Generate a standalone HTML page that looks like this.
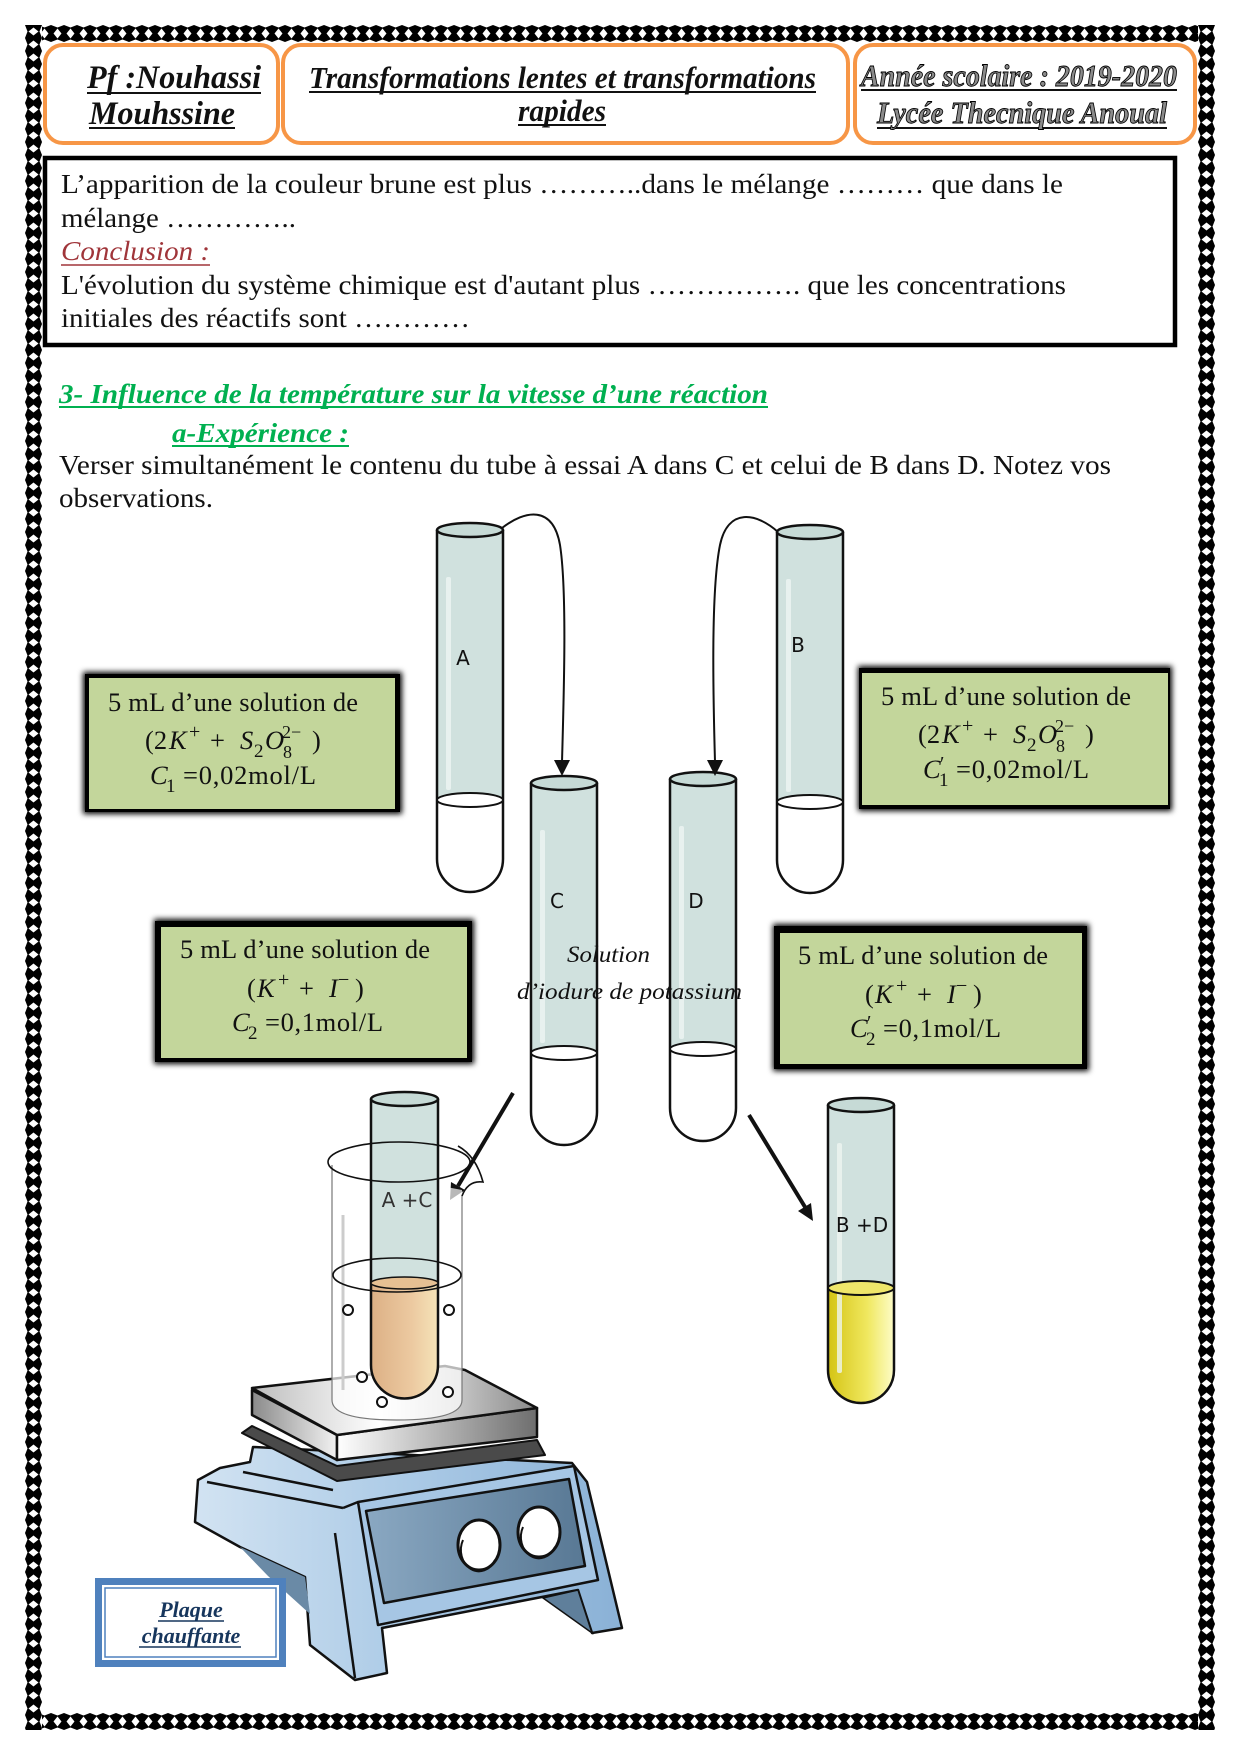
<!DOCTYPE html>
<html><head><meta charset="utf-8">
<style>
html,body{margin:0;padding:0;background:#fff;}
svg{display:block;}
.s{font-family:"Liberation Serif",serif;}
.ss{font-family:"DejaVu Sans","Liberation Sans",sans-serif;}
</style></head>
<body>
<svg width="1240" height="1754" viewBox="0 0 1240 1754" xmlns="http://www.w3.org/2000/svg">
<defs>
 <pattern id="pt" x="25" y="25" width="13" height="17" patternUnits="userSpaceOnUse">
  <rect width="13" height="17" fill="#000"/>
  <polygon points="6.5,3.5 10.5,8.5 6.5,13.5 2.5,8.5" fill="#fff"/>
  <polygon points="0,0 13,0 6.5,2.5" fill="#fff"/>
  <polygon points="0,17 13,17 6.5,14.5" fill="#fff"/>
 </pattern>
 <pattern id="pb" x="25" y="1713" width="13" height="17" patternUnits="userSpaceOnUse">
  <rect width="13" height="17" fill="#000"/>
  <polygon points="6.5,3.5 10.5,8.5 6.5,13.5 2.5,8.5" fill="#fff"/>
  <polygon points="0,0 13,0 6.5,2.5" fill="#fff"/>
  <polygon points="0,17 13,17 6.5,14.5" fill="#fff"/>
 </pattern>
 <pattern id="pl" x="25" y="25" width="17" height="13" patternUnits="userSpaceOnUse">
  <rect width="17" height="13" fill="#000"/>
  <polygon points="3.5,6.5 8.5,2.5 13.5,6.5 8.5,10.5" fill="#fff"/>
  <polygon points="0,0 0,13 2.5,6.5" fill="#fff"/>
  <polygon points="17,0 17,13 14.5,6.5" fill="#fff"/>
 </pattern>
 <pattern id="pr" x="1198" y="25" width="17" height="13" patternUnits="userSpaceOnUse">
  <rect width="17" height="13" fill="#000"/>
  <polygon points="3.5,6.5 8.5,2.5 13.5,6.5 8.5,10.5" fill="#fff"/>
  <polygon points="0,0 0,13 2.5,6.5" fill="#fff"/>
  <polygon points="17,0 17,13 14.5,6.5" fill="#fff"/>
 </pattern>
 <filter id="blur" x="-10%" y="-20%" width="120%" height="140%"><feGaussianBlur stdDeviation="3"/></filter>
 <linearGradient id="orange" x1="0" x2="1" y1="0" y2="0">
  <stop offset="0" stop-color="#dcb085"/><stop offset="0.6" stop-color="#ecc9a0"/><stop offset="1" stop-color="#f5e3b8"/>
 </linearGradient>
 <linearGradient id="yellow" x1="0" x2="1" y1="0" y2="0">
  <stop offset="0" stop-color="#d4c414"/><stop offset="0.6" stop-color="#f0e860"/><stop offset="1" stop-color="#fdfcc8"/>
 </linearGradient>
 <linearGradient id="body" x1="0" x2="1" y1="0" y2="0">
  <stop offset="0" stop-color="#d2e3f2"/><stop offset="0.5" stop-color="#abcae6"/><stop offset="1" stop-color="#8ab1d6"/>
 </linearGradient>
 <linearGradient id="panel" x1="0" x2="1" y1="0" y2="0">
  <stop offset="0" stop-color="#8aa8c2"/><stop offset="1" stop-color="#587894"/>
 </linearGradient>
 <linearGradient id="slabTop" x1="0" x2="1" y1="0" y2="0">
  <stop offset="0" stop-color="#bdbdbd"/><stop offset="0.45" stop-color="#ffffff"/><stop offset="1" stop-color="#8a8a8a"/>
 </linearGradient>
 <linearGradient id="slabL" x1="0" x2="1" y1="0" y2="0">
  <stop offset="0" stop-color="#8a8a8a"/><stop offset="1" stop-color="#f2f2f2"/>
 </linearGradient>
 <linearGradient id="slabR" x1="0" x2="1" y1="0" y2="0">
  <stop offset="0" stop-color="#ffffff"/><stop offset="1" stop-color="#6e6e6e"/>
 </linearGradient>
</defs>

<!-- page border -->
<rect x="25" y="25" width="1190" height="17" fill="url(#pt)"/>
<rect x="25" y="1713" width="1190" height="17" fill="url(#pb)"/>
<rect x="25" y="25" width="17" height="1705" fill="url(#pl)"/>
<rect x="1198" y="25" width="17" height="1705" fill="url(#pr)"/>

<!-- header boxes -->
<rect x="45" y="45" width="233" height="98" rx="18" fill="#fff" stroke="#f79646" stroke-width="4"/>
<rect x="283" y="45" width="565" height="98" rx="18" fill="#fff" stroke="#f79646" stroke-width="4"/>
<rect x="855" y="45" width="340" height="98" rx="18" fill="#fff" stroke="#f79646" stroke-width="4"/>

<g class="s" font-weight="bold" font-style="italic" fill="#111">
 <text x="87" y="88" font-size="33" textLength="174" lengthAdjust="spacingAndGlyphs">Pf :Nouhassi</text>
 <text x="89" y="124" font-size="33" textLength="146" lengthAdjust="spacingAndGlyphs">Mouhssine</text>
 <text x="309" y="88" font-size="31" textLength="507" lengthAdjust="spacingAndGlyphs">Transformations lentes et transformations</text>
 <text x="518" y="121" font-size="31" textLength="88" lengthAdjust="spacingAndGlyphs">rapides</text>
</g>
<g stroke="#111" stroke-width="2">
 <line x1="87" y1="93" x2="261" y2="93"/>
 <line x1="89" y1="128" x2="235" y2="128"/>
 <line x1="309" y1="92" x2="816" y2="92"/>
 <line x1="518" y1="125" x2="606" y2="125"/>
 <line x1="861" y1="90" x2="1177" y2="90"/>
 <line x1="877" y1="128" x2="1167" y2="128"/>
</g>
<g class="s" font-style="italic" font-weight="bold" fill="#8a8a8a" stroke="#000" stroke-width="0.9">
 <text x="861" y="86" font-size="31" textLength="316" lengthAdjust="spacingAndGlyphs">Année scolaire : 2019-2020</text>
 <text x="877" y="123" font-size="31" textLength="290" lengthAdjust="spacingAndGlyphs">Lycée Thecnique Anoual</text>
</g>

<!-- content box -->
<rect x="45" y="158" width="1130" height="187" fill="#fff" stroke="#000" stroke-width="4.5"/>
<g class="s" font-size="27.5" fill="#111">
 <text x="61" y="193" textLength="1002" lengthAdjust="spacingAndGlyphs">L’apparition de la couleur brune est plus ………..dans le mélange ……… que dans le</text>
 <text x="61" y="227" textLength="235" lengthAdjust="spacingAndGlyphs">mélange …………..</text>
 <text x="61" y="260" font-style="italic" fill="#a0353a" textLength="149" lengthAdjust="spacingAndGlyphs">Conclusion :</text>
 <text x="61" y="294" textLength="1005" lengthAdjust="spacingAndGlyphs">L'évolution du système chimique est d'autant plus ……………. que les concentrations</text>
 <text x="61" y="327" textLength="409" lengthAdjust="spacingAndGlyphs">initiales des réactifs sont …………</text>
</g>
<line x1="61" y1="265" x2="210" y2="265" stroke="#a0353a" stroke-width="1.5"/>

<!-- section titles -->
<g class="s" font-size="27" font-weight="bold" font-style="italic" fill="#00b050">
 <text x="59" y="403" textLength="709" lengthAdjust="spacingAndGlyphs">3- Influence de la température sur la vitesse d’une réaction</text>
 <text x="172" y="442" textLength="177" lengthAdjust="spacingAndGlyphs">a-Expérience :</text>
</g>
<line x1="59" y1="407" x2="768" y2="407" stroke="#00b050" stroke-width="2"/>
<line x1="172" y1="446" x2="349" y2="446" stroke="#00b050" stroke-width="2"/>
<g class="s" font-size="27.5" fill="#111">
 <text x="59" y="474" textLength="1052" lengthAdjust="spacingAndGlyphs">Verser simultanément le contenu du tube à essai A dans C et celui de B dans D. Notez vos</text>
 <text x="59" y="507" textLength="154" lengthAdjust="spacingAndGlyphs">observations.</text>
</g>

<!-- green boxes -->
<g>
 <rect x="83" y="672" width="319" height="142" fill="#000" filter="url(#blur)"/>
 <rect x="85" y="674" width="315" height="138" fill="#000"/>
 <rect x="89" y="678" width="306" height="131" fill="#c3d69b"/>
 <rect x="858" y="666" width="314" height="145" fill="#000" filter="url(#blur)"/>
 <rect x="859" y="668" width="311" height="141" fill="#000"/>
 <rect x="862" y="673" width="306" height="132" fill="#c3d69b"/>
 <rect x="154" y="919" width="320" height="145" fill="#000" filter="url(#blur)"/>
 <rect x="155" y="921" width="317" height="141" fill="#000"/>
 <rect x="161" y="927" width="306" height="131" fill="#c3d69b"/>
 <rect x="773" y="924" width="316" height="147" fill="#000" filter="url(#blur)"/>
 <rect x="774" y="926" width="313" height="143" fill="#000"/>
 <rect x="780" y="933" width="302" height="131" fill="#c3d69b"/>
</g>

<g class="s" fill="#111" font-size="26.5">
 <text x="108" y="711" textLength="250">5 mL d’une solution de</text>
 <text x="145" y="749">(2</text>
 <text x="169" y="749" font-style="italic">K</text>
 <text x="189" y="738" font-size="20">+</text>
 <text x="210" y="749">+</text>
 <text x="240" y="749" font-style="italic">S</text>
 <text x="254" y="757" font-size="19">2</text>
 <text x="265" y="749" font-style="italic">O</text>
 <text x="282" y="738" font-size="18">2−</text>
 <text x="283" y="758" font-size="18">8</text>
 <text x="312" y="749">)</text>
 <text x="150" y="784" font-style="italic">C</text>
 <text x="166" y="792" font-size="19">1</text>
 <text x="183" y="784" textLength="133">=0,02mol/L</text>
</g>
<g class="s" fill="#111" font-size="26.5" transform="translate(773,-6)">
 <text x="108" y="711" textLength="250">5 mL d’une solution de</text>
 <text x="145" y="749">(2</text>
 <text x="169" y="749" font-style="italic">K</text>
 <text x="189" y="738" font-size="20">+</text>
 <text x="210" y="749">+</text>
 <text x="240" y="749" font-style="italic">S</text>
 <text x="254" y="757" font-size="19">2</text>
 <text x="265" y="749" font-style="italic">O</text>
 <text x="282" y="738" font-size="18">2−</text>
 <text x="283" y="758" font-size="18">8</text>
 <text x="312" y="749">)</text>
 <text x="150" y="784" font-style="italic">C</text>
 <text x="167" y="776" font-size="20">′</text>
 <text x="166" y="792" font-size="19">1</text>
 <text x="183" y="784" textLength="133">=0,02mol/L</text>
</g>
<g class="s" fill="#111" font-size="26.5">
 <text x="180" y="958" textLength="250">5 mL d’une solution de</text>
 <text x="247" y="997">(</text>
 <text x="257" y="997" font-style="italic">K</text>
 <text x="278" y="986" font-size="20">+</text>
 <text x="299" y="997">+</text>
 <text x="329" y="997" font-style="italic">I</text>
 <text x="338" y="986" font-size="20">−</text>
 <text x="355" y="997">)</text>
 <text x="232" y="1031" font-style="italic">C</text>
 <text x="248" y="1039" font-size="19">2</text>
 <text x="265" y="1031" textLength="118">=0,1mol/L</text>
</g>
<g class="s" fill="#111" font-size="26.5" transform="translate(618,6)">
 <text x="180" y="958" textLength="250">5 mL d’une solution de</text>
 <text x="247" y="997">(</text>
 <text x="257" y="997" font-style="italic">K</text>
 <text x="278" y="986" font-size="20">+</text>
 <text x="299" y="997">+</text>
 <text x="329" y="997" font-style="italic">I</text>
 <text x="338" y="986" font-size="20">−</text>
 <text x="355" y="997">)</text>
 <text x="232" y="1031" font-style="italic">C</text>
 <text x="249" y="1023" font-size="20">′</text>
 <text x="248" y="1039" font-size="19">2</text>
 <text x="265" y="1031" textLength="118">=0,1mol/L</text>
</g>

<!-- test tubes A, B, C, D -->
<g stroke="#111" stroke-width="2.5">
 <rect x="437" y="530" width="66" height="270" fill="#d0e1de" stroke="none"/>
 <rect x="446" y="577" width="5" height="213" rx="2" fill="#e8f1ef" stroke="none"/>
 <path d="M437,530 L437,859 A33,33 0 0 0 503,859 L503,530" fill="none"/>
 <ellipse cx="470" cy="530" rx="33" ry="7" fill="#c6dad6"/>
 <ellipse cx="470" cy="800" rx="33" ry="7" fill="#fff" stroke-width="2"/>
 <rect x="777" y="532" width="66" height="270" fill="#d0e1de" stroke="none"/>
 <rect x="786" y="579" width="5" height="213" rx="2" fill="#e8f1ef" stroke="none"/>
 <path d="M777,532 L777,860 A33,33 0 0 0 843,860 L843,532" fill="none"/>
 <ellipse cx="810" cy="532" rx="33" ry="7" fill="#c6dad6"/>
 <ellipse cx="810" cy="802" rx="33" ry="7" fill="#fff" stroke-width="2"/>
 <rect x="531" y="783" width="66" height="270" fill="#d0e1de" stroke="none"/>
 <rect x="540" y="830" width="5" height="213" rx="2" fill="#e8f1ef" stroke="none"/>
 <path d="M531,783 L531,1112 A33,33 0 0 0 597,1112 L597,783" fill="none"/>
 <ellipse cx="564" cy="783" rx="33" ry="7" fill="#c6dad6"/>
 <ellipse cx="564" cy="1053" rx="33" ry="7" fill="#fff" stroke-width="2"/>
 <rect x="670" y="779" width="66" height="270" fill="#d0e1de" stroke="none"/>
 <rect x="679" y="826" width="5" height="213" rx="2" fill="#e8f1ef" stroke="none"/>
 <path d="M670,779 L670,1108 A33,33 0 0 0 736,1108 L736,779" fill="none"/>
 <ellipse cx="703" cy="779" rx="33" ry="7" fill="#c6dad6"/>
 <ellipse cx="703" cy="1049" rx="33" ry="7" fill="#fff" stroke-width="2"/>
</g>
<g class="ss" font-size="20" fill="#111" text-anchor="middle">
 <text x="463" y="665">A</text>
 <text x="798" y="652">B</text>
 <text x="557" y="908">C</text>
 <text x="696" y="908">D</text>
</g>
<g class="s" font-style="italic" font-size="23" fill="#111">
 <text x="567" y="962" textLength="83" lengthAdjust="spacingAndGlyphs">Solution</text>
 <text x="517" y="999" textLength="225" lengthAdjust="spacingAndGlyphs">d’iodure de potassium</text>
</g>

<!-- curved arrows -->
<g fill="none" stroke="#111" stroke-width="2">
 <path d="M502,528 C525,510 553,505 560,545 C567,590 564,690 562,762"/>
 <path d="M778,532 C757,513 728,507 720,545 C711,590 713,690 715,762"/>
</g>
<polygon points="562,776 554,760 570,760" fill="#111"/>
<polygon points="715,776 707,760 723,760" fill="#111"/>

<!-- straight thick arrows -->
<line x1="513" y1="1093" x2="458" y2="1186" stroke="#111" stroke-width="4"/>
<polygon points="450,1200 465,1190 451,1182" fill="#111"/>
<line x1="749" y1="1115" x2="805" y2="1207" stroke="#111" stroke-width="4"/>
<polygon points="813,1221 811,1203 798,1211" fill="#111"/>

<!-- B+D tube -->
<g stroke="#111" stroke-width="2.5">
 <rect x="828" y="1105" width="66" height="183" fill="#d0e1de" stroke="none"/>
 <path d="M828,1288 L828,1370 A33,33 0 0 0 894,1370 L894,1288 Z" fill="url(#yellow)" stroke="none"/>
 <rect x="837" y="1143" width="5" height="230" rx="2" fill="#eef5f0" stroke="none" opacity="0.8"/>
 <path d="M828,1105 L828,1370 A33,33 0 0 0 894,1370 L894,1105" fill="none"/>
 <ellipse cx="861" cy="1105" rx="33" ry="7" fill="#c6dad6"/>
 <ellipse cx="861" cy="1288" rx="33" ry="7" fill="#efe66a" stroke-width="2"/>
</g>
<text class="ss" x="862" y="1232" font-size="20" fill="#111" text-anchor="middle">B +D</text>

<!-- hot plate body -->
<polygon points="198,1480 220,1468 250,1462 253,1447 572,1463 587,1482 622,1628 592,1633 578,1590 382,1628 387,1673 355,1680 310,1645 305,1577 240,1547 195,1522" fill="url(#body)" stroke="#111" stroke-width="2.5" stroke-linejoin="round"/>
<polygon points="240,1547 305,1577 310,1614 268,1576" fill="#6a8aa6"/>
<polygon points="543,1598 578,1590 592,1633" fill="#5f7f9b" stroke="#111" stroke-width="1.5"/>
<polygon points="358,1502 574,1466 598,1580 378,1625" fill="#a6c6e4" stroke="#111" stroke-width="2.5" stroke-linejoin="round"/>
<polygon points="366,1511 569,1479 585,1566 384,1603" fill="url(#panel)" stroke="#111" stroke-width="2.5" stroke-linejoin="round"/>
<g stroke="#111" stroke-width="2.5" fill="none">
 <line x1="335" y1="1533" x2="355" y2="1678"/>
 <line x1="207" y1="1482" x2="343" y2="1508"/>
 <line x1="243" y1="1472" x2="333" y2="1490"/>
 <line x1="343" y1="1508" x2="358" y2="1502"/>
</g>
<g stroke="#111" stroke-width="3">
 <ellipse cx="479" cy="1545" rx="21" ry="25" fill="#fff"/>
 <path d="M463,1540 A17,20 0 0 0 495,1560" fill="none" stroke-width="2"/>
 <ellipse cx="539" cy="1532" rx="21" ry="25" fill="#fff"/>
 <path d="M523,1527 A17,20 0 0 0 555,1547" fill="none" stroke-width="2"/>
</g>
<!-- dark plate -->
<polygon points="242,1433 252,1426 337,1466 537,1440 545,1455 337,1481" fill="#4a4a4a" stroke="#111" stroke-width="2" stroke-linejoin="round"/>
<!-- slab -->
<g stroke="#111" stroke-width="2.5" stroke-linejoin="round">
 <polygon points="252,1390 337,1435 337,1460 252,1415" fill="url(#slabL)"/>
 <polygon points="337,1435 537,1408 537,1437 337,1460" fill="url(#slabR)"/>
 <polygon points="252,1388 445,1366 465,1370 537,1408 337,1435" fill="url(#slabTop)"/>
</g>

<!-- beaker fill -->
<path d="M332,1165 L332,1400 Q332,1420 397,1420 Q462,1420 462,1400 L462,1190 Z" fill="#fff" fill-opacity="0.7"/>
<!-- A+C tube -->
<g stroke="#111" stroke-width="2.5">
 <rect x="371" y="1099" width="67" height="184" fill="#d0e1de" stroke="none"/>
 <path d="M371,1283 L371,1365 A33.5,33.5 0 0 0 438,1365 L438,1283 Z" fill="url(#orange)" stroke="none"/>
 <path d="M371,1099 L371,1365 A33.5,33.5 0 0 0 438,1365 L438,1099" fill="none"/>
 <ellipse cx="404.5" cy="1099" rx="33.5" ry="7" fill="#c6dad6"/>
 <ellipse cx="404.5" cy="1283" rx="33.5" ry="6" fill="#e6c093" stroke-width="1.5"/>
</g>
<text class="ss" x="407" y="1207" font-size="20" fill="#333" text-anchor="middle">A +C</text>
<!-- beaker outline -->
<path d="M332,1165 L332,1400 Q332,1420 397,1420 Q462,1420 462,1400 L462,1195" fill="none" stroke="#777" stroke-width="1.2"/>
<line x1="343" y1="1215" x2="343" y2="1390" stroke="#ccc" stroke-width="3"/>
<g fill="none" stroke="#111" stroke-width="1.6">
 <ellipse cx="399" cy="1162" rx="71" ry="20"/>
 <path d="M458,1146 Q476,1156 483,1182 Q468,1180 462,1196"/>
 <ellipse cx="397" cy="1275" rx="64" ry="17"/>
</g>
<g fill="#fff" stroke="#111" stroke-width="2">
 <circle cx="348" cy="1310" r="5"/>
 <circle cx="449" cy="1310" r="5"/>
 <circle cx="362" cy="1377" r="5"/>
 <circle cx="448" cy="1392" r="5"/>
 <circle cx="382" cy="1402" r="5"/>
</g>

<!-- Plaque chauffante label -->
<rect x="98.5" y="1581.5" width="184" height="82" fill="#fff" stroke="#4f81bd" stroke-width="7"/>
<rect x="105" y="1588" width="171" height="69" fill="none" stroke="#4f81bd" stroke-width="1.5"/>
<g class="s" font-size="22" font-weight="bold" font-style="italic" fill="#17365d" text-anchor="middle">
 <text x="191" y="1617">Plaque</text>
 <text x="191" y="1643">chauffante</text>
</g>
<g stroke="#17365d" stroke-width="1.5">
 <line x1="158" y1="1621" x2="224" y2="1621"/>
 <line x1="139" y1="1647" x2="241" y2="1647"/>
</g>
</svg>
</body></html>
